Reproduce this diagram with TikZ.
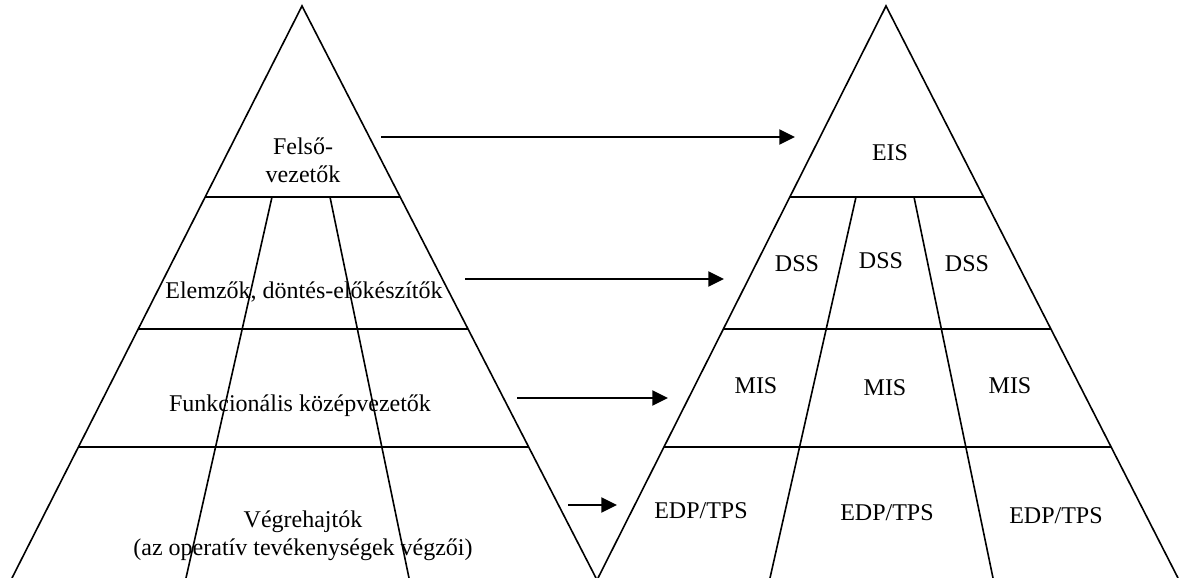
\documentclass[tikz,border=0pt]{standalone}
\usepackage{fontspec}
\setmainfont{Liberation Serif}
\usetikzlibrary{arrows.meta,calc}
\begin{document}
\begin{tikzpicture}[x=0.5pt,y=-0.5pt,
  edge/.style={line width=0.8pt},
  lvl/.style={font=\fontsize{12}{13.8}\selectfont, align=center, inner sep=0pt},
  flow/.style={line width=1pt,-{Triangle[length=7.8pt,width=7.5pt]}}]
\useasboundingbox (0,0) rectangle (1184,578);
\clip (0,0) rectangle (1184,578);

% ---------- left pyramid: organisational levels ----------
\coordinate (LA) at (302,6);
\coordinate (LL) at (12,578);
\coordinate (LR) at (596,578);
\draw[edge] (LL) -- (LA) -- (LR);
\foreach \t in {0.3339,0.5647,0.771}
  \draw[edge] ($(LA)!\t!(LL)$) -- ($(LA)!\t!(LR)$);
\draw[edge] (272,197) -- (186,578);
\draw[edge] (330,197) -- (409,578);

\node[lvl] (felso)  at (303,160) {Felső-\\vezetők};
\node[lvl] (elemzo) at (304,292) {Elemzők, döntés-előkészítők};
\node[lvl] (funk)   at (300,406) {Funkcionális középvezetők};
\node[lvl] (vegre)  at (303,536) {Végrehajtók\\(az operatív tevékenységek végzői)};

% ---------- right pyramid: information systems ----------
\coordinate (RA) at (886,6);
\coordinate (RL) at (598,578);
\coordinate (RR) at (1178,578);
\draw[edge] (RL) -- (RA) -- (RR);
\foreach \t in {0.3339,0.5647,0.771}
  \draw[edge] ($(RA)!\t!(RL)$) -- ($(RA)!\t!(RR)$);
\draw[edge] (856,197) -- (770,578);
\draw[edge] (914,197) -- (993,578);

\node[lvl] (eis)   at (890,153) {EIS};
\node[lvl] (dss1)  at (797,264) {DSS};
\node[lvl] (dss2)  at (881,261) {DSS};
\node[lvl] (dss3)  at (967,264) {DSS};
\node[lvl] (mis1)  at (756,386) {MIS};
\node[lvl] (mis2)  at (885,388) {MIS};
\node[lvl] (mis3)  at (1010,386) {MIS};
\node[lvl] (edp1)  at (701,511) {EDP/TPS};
\node[lvl] (edp2)  at (887,513) {EDP/TPS};
\node[lvl] (edp3)  at (1056,516) {EDP/TPS};

% ---------- level-to-system arrows ----------
\coordinate (f1) at (381,137);  \coordinate (t1) at (795,137);
\coordinate (f2) at (465,279);  \coordinate (t2) at (724,279);
\coordinate (f3) at (517,398);  \coordinate (t3) at (668,398);
\coordinate (f4) at (568,505);  \coordinate (t4) at (617,505);
\foreach \i in {1,...,4}
  \draw[flow] (f\i) -- (t\i);
\end{tikzpicture}
\end{document}
